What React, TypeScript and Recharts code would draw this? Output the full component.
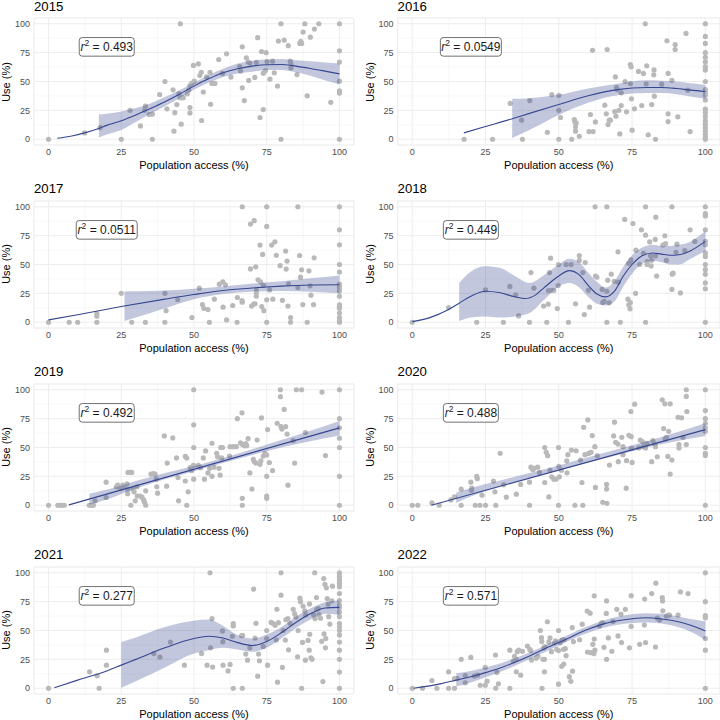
import React from 'react';
import {
  ComposedChart, Scatter, Line, Area, XAxis, YAxis, CartesianGrid, ReferenceDot,
} from 'recharts';

type Pt = [number, number];
type Band = [number, number, number];

const at100 = (ys: number[]): Pt[] => ys.map((y) => [100, y] as Pt);

// ---- 2015
const points2015: Pt[] = [
  [0, 0], [12.4, 5.5], [17.7, 10], [25, 0], [28, 25], [31.6, 11.5], [33.3, 28.6], [33, 25], [34.6, 21.4], [35.7, 21.7],
  [35.7, 0], [38.2, 38.7], [40, 50], [40.7, 26.3], [42.8, 42.8], [43.1, 7], [43.4, 23], [44.1, 30], [45.3, 100], [45.6, 13],
  [45.2, 36], [45.8, 36], [46.3, 36], [44.8, 39.6], [47.7, 39.3], [48.2, 42.5], [48.6, 46.5], [48.6, 27.5], [48.6, 22.8],
  [49.2, 48.3], [49.8, 63.9], [50.1, 50.3], [51.5, 65.3], [52, 55.2], [52.5, 58], [52.6, 16.2], [53.2, 40.8], [54.3, 54],
  [55.5, 58], [55.7, 30.3], [56.2, 48.3], [56.6, 48.3], [57.2, 48.3], [58.5, 69], [59.8, 57], [61.2, 74], [62.7, 53.8],
  [65.7, 63], [66, 59], [66.6, 80], [66.6, 44.5], [67.3, 33.5], [68, 70.5], [68.6, 67], [68.8, 50.9], [69.2, 66],
  [71.4, 66.5], [71.9, 88], [70.9, 53.5], [73.2, 76], [73.8, 57.2], [73.8, 25.7], [72.7, 18.8], [74.6, 59.5], [74.8, 75],
  [75.1, 67.3], [76.1, 52], [77, 67.6], [77.6, 57.5], [78.7, 46], [79, 85], [79.9, 100], [79.9, 0], [81, 85.8], [82.4, 81],
  [83.1, 67.6], [83.3, 65], [83.3, 61.8], [85.4, 56], [86.4, 83], [86.7, 84.7], [87, 83], [87.5, 92.8], [88.1, 100],
  [88.9, 37.6], [90, 88.4], [91.4, 95.4], [92.9, 100], [97, 32],
  ...at100([100, 76.6, 66.8, 50.3, 42, 40, 0]),
];
const fit2015: Pt[] = [
  [3, 0.8], [8, 2.8], [12.4, 5.5], [17.5, 9.5], [20, 12], [25, 16], [30, 21], [35, 26.6], [40, 32.5], [45, 39], [50, 46],
  [55, 52.3], [60, 57.5], [65, 61], [70, 63.3], [75, 64.5], [80, 64.7], [85, 63.3], [90, 61.3], [95, 59], [100, 56.6],
];
const band2015: Band[] = [
  [17.3, 1.4, 21.4], [20, 4, 22], [25, 8, 24], [30, 15, 27], [35, 22, 31], [40, 28.5, 36.5], [45, 35.5, 42.5], [50, 43, 49],
  [55, 49, 55.5], [60, 54, 61], [65, 57, 65.5], [70, 58.5, 68], [75, 60, 69], [80, 60, 69.5], [85, 58, 68.5], [90, 55, 67.5],
  [95, 51, 66.5], [100, 47.5, 65.5],
];

// ---- 2016
const points2016: Pt[] = [
  [17.7, 0], [27.4, 0], [33.4, 31], [37.3, 16.5], [37.6, 0], [40.1, 33.5], [46.1, 6], [47.6, 38.7], [50, 38], [50, 25], [50, 0],
  [50.6, 18.8], [54.4, 0], [55.3, 17], [55.5, 15], [55.7, 10.7], [55.7, 7], [55.9, 14], [57, 2.6], [60.3, 6.6], [61.7, 6.6],
  [60.8, 21.4], [61.5, 77], [62.5, 15], [65.7, 29.5], [66.2, 22], [66.5, 77.7], [66.8, 12.7], [67.2, 16.5], [67.6, 16.5],
  [69.1, 24], [69.3, 54], [69.7, 44.8], [69.9, 43], [69.5, 20], [70.5, 25], [70.8, 4.6], [71.3, 40.2], [71.3, 29.2], [72.6, 50],
  [73.1, 23.7], [74.4, 64.7], [74.7, 62.7], [74.4, 48.3], [74.8, 35], [75, 7.8], [75.8, 26.3], [77.2, 58.7], [78.3, 29.2],
  [78.9, 57], [79.5, 100], [80, 63.6], [79.8, 48], [80.5, 3.8], [81.7, 30], [82.4, 55.8], [82.5, 60], [82.6, 37.3], [83, 0],
  [85.1, 47.7], [86.9, 85.3], [87.3, 57], [87.3, 22], [87.3, 15.3], [88.6, 51], [89.7, 82], [89.7, 77.7], [90.6, 19.4],
  [93.4, 91.6], [94, 42.5], [94.8, 6.6],
  ...at100([100, 89, 83, 75, 71, 67, 63, 60, 50, 43, 41, 38, 34, 26, 23, 19.5, 16, 13, 10, 7, 4, 1.5, 0]),
];
const fit2016: Pt[] = [
  [17.6, 5.5], [25, 11], [34.4, 18], [40, 22.4], [50, 30], [60, 37.6], [70, 43], [80, 44.8], [85, 44.8], [90, 44], [95, 42.5],
  [100, 41.3],
];
const band2016: Band[] = [
  [34.1, 1, 35], [40, 8, 35.5], [50, 21, 38.5], [60, 31.5, 44], [70, 38, 48], [80, 40, 51], [85, 40, 50.7], [90, 39, 50],
  [95, 37, 48.5], [100, 35, 47],
];

// ---- 2017
const points2017: Pt[] = [
  [0, 0], [7.1, 0], [10, 0], [16.6, 7.5], [16.6, 5.2], [16.6, 0], [25, 25], [28.6, 0], [33.3, 0], [40, 25], [40.4, 10], [40, 0],
  [44.4, 19.7], [49.3, 4], [51.8, 29.5], [52.9, 15.3], [53.4, 12], [54.8, 11], [55.3, 0], [57, 20], [58.7, 33], [59.9, 35],
  [60.8, 32.4], [60, 13], [61.2, 2], [63.3, 14.5], [64.8, 0], [64.9, 21.4], [66.5, 18.8], [66.6, 17.3], [66.6, 100], [69.4, 85],
  [69.4, 46.2], [70.7, 88], [69.8, 14], [70.5, 15.6], [71, 16], [71.2, 48], [71.4, 27.5], [71.4, 25], [71.4, 22.5], [72, 36.7],
  [72.7, 66.8], [72.9, 35], [73.3, 13.6], [73.6, 58.7], [74, 10], [73.9, 32], [75, 100], [75, 83], [75, 19.4], [75, 0], [76, 28],
  [76.7, 66.8], [77.1, 20], [77.8, 69.6], [78.3, 58], [79.6, 49], [80.4, 19], [81.5, 61.6], [82, 53], [81.7, 46], [82.3, 14],
  [82.5, 33.3], [83.2, 4], [83.2, 0], [85.7, 100], [85.7, 30], [86.3, 57.8], [86.6, 39], [87, 45.4], [87.4, 15.3], [88.9, 0],
  [89.5, 44.5], [89.9, 31.5], [90.2, 23.4], [91.3, 55.8], [91.1, 15.3],
  ...at100([100, 80, 67, 50, 43.5, 33, 31, 29, 27, 22.5, 15, 13, 12, 8, 4, 1.5, 0]),
];
const fit2017: Pt[] = [
  [0, 2], [10, 6.5], [25, 13.6], [40, 20], [50, 24], [60, 27.5], [70, 29.6], [75, 30.5], [80, 31.3], [90, 32.3], [100, 32.5],
];
const band2017: Band[] = [
  [26.1, 1, 26.6], [30, 4, 26.8], [40, 12, 27.5], [50, 20, 29], [60, 24.5, 31], [70, 26.5, 33.5], [80, 27, 35.5],
  [90, 26.5, 38], [100, 25, 40.5],
];

// ---- 2018
const points2018: Pt[] = [
  [0, 0], [12.4, 12.7], [22, 0], [25, 28], [31.1, 0], [33.3, 31], [35.3, 23.7], [36.3, 5.5], [40, 0], [40.5, 43], [41.5, 29.5],
  [44.8, 14], [46.4, 15.6], [45.9, 0], [46.8, 43], [47.2, 55.5], [46.5, 27.5], [47.7, 27.5], [48.3, 27.5], [49.5, 11.8],
  [49.8, 31.8], [49.9, 50], [52.5, 50], [54.2, 50], [53.3, 0], [55.7, 16], [57, 57.8], [57, 53.6], [58.2, 43], [59, 51.7],
  [58.7, 6.6], [60.1, 27.7], [60.5, 13], [62.4, 100], [62.5, 40], [63, 39], [64.8, 28.4], [65, 17], [65.5, 18], [66.4, 100],
  [66.4, 0], [66.4, 26.8], [66.7, 36.4], [67.2, 16.8], [67.9, 41.6], [68.9, 35.5], [70.2, 61], [70.3, 34.7], [71, 0], [72.5, 89],
  [73.6, 20], [73.9, 15], [74.3, 11.6], [74.4, 17], [73.8, 51], [74.3, 51.7], [74.6, 54], [75.3, 85.5], [76.2, 25], [76.3, 62.4],
  [77.6, 50], [78.2, 80], [78.9, 59.6], [79.6, 100], [79.6, 75.4], [79.6, 0], [80.1, 50], [80.2, 52.6], [81, 69.6], [81.3, 57.5],
  [81.5, 48.8], [81.7, 53.6], [82.9, 71.7], [83.1, 91], [83, 57.5], [83.4, 40], [85.5, 66.8], [86.2, 74.9], [86.4, 68],
  [86.7, 53.6], [88.6, 100], [88.7, 41.6], [89, 42.5], [88.6, 28.4], [90.3, 67.6], [90, 60.6], [91.5, 25.4], [93, 62],
  [94.8, 80], [96.4, 70],
  ...at100([100, 94, 92, 80, 70, 67, 60, 57, 50, 45.5, 41.5, 34, 29, 0]),
];
const fit2018: Pt[] = [
  [0, 0.5], [6, 4], [12.4, 11], [16, 16.5], [20, 22.5], [25, 26.8], [30, 25.5], [35, 22], [38.5, 20.5], [42, 23.5], [45, 30],
  [50, 40], [53.5, 44.7], [57, 41], [60, 32], [63, 24.5], [66, 22], [69, 27], [72, 40], [75, 50], [78, 57], [82, 60], [85, 59],
  [88, 58], [91, 58.5], [95, 62], [100, 70],
];
const band2018: Band[] = [
  [16, 1, 34], [20, 4, 44], [25, 5, 48.5], [30, 4, 47], [35, 5, 40], [40, 8, 34], [45, 19.5, 41], [50, 31, 50], [53.5, 34, 55],
  [57, 30, 52], [60, 22, 43], [63, 16, 35], [66, 14.5, 30], [69, 18, 35.5], [72, 31, 48], [75, 42, 58], [78, 50, 64],
  [82, 53, 67], [85, 52, 66], [88, 50, 66], [91, 50, 67], [95, 55, 70], [100, 62, 79],
];

// ---- 2019
const points2019: Pt[] = [
  [0, 0], [3.2, 0], [4, 0], [4.7, 0], [5.4, 0], [14, 0], [14.9, 0], [15.4, 0], [16, 3.8], [19.8, 20], [19.8, 6.7], [23.3, 16],
  [23.8, 17.4], [24.7, 14.5], [25.5, 17.4], [26, 16.5], [27, 18.5], [27.2, 10], [27.3, 28.4], [28, 28.4], [28.6, 28.4],
  [27.3, 13.6], [28.3, 0], [29, 14], [29.4, 11.6], [29.8, 3.8], [30.4, 16], [30.5, 8], [31.5, 8], [32.1, 7], [32.7, 4.6],
  [33, 2.6], [33.4, 0], [33.4, 12.5], [35.2, 27], [36, 27.5], [36.6, 27], [37, 22.6], [37.2, 16], [37.5, 10.4], [39.8, 60],
  [40.6, 16.5], [40.8, 36.5], [42.7, 58.3], [44, 41], [44.5, 24], [44.7, 3.8], [47, 42.3], [47.5, 40.8], [47, 21], [47.5, 0],
  [48, 11.6], [48.7, 32.5], [49.2, 30], [49.8, 34.5], [49.9, 100], [49.9, 69.6], [49.9, 50], [49.9, 22.6], [51.5, 34.5],
  [52.2, 32.5], [53.2, 41], [53.6, 22.6], [54, 47], [54.8, 28], [55.4, 32], [56.2, 25], [56.2, 53.6], [56.9, 33], [57.8, 45],
  [58.1, 42], [58.6, 32], [59, 26], [59.2, 50], [59.8, 50], [59.5, 41], [62.2, 42.6], [62.4, 50.7], [63.5, 50.7], [64.9, 75],
  [64.5, 50.7], [66, 54], [66.7, 52.7], [67.4, 51.6], [66.5, 80], [66.6, 6], [66.6, 0], [67.8, 53.3], [68.1, 51.6],
  [68.6, 57.7], [69.2, 28], [69.9, 14], [70.4, 39.7], [70.8, 37.6], [71.3, 36.5], [71.7, 56.5], [72.7, 35.4], [73, 38.5],
  [73.2, 75.6], [73.8, 42.6], [74.4, 45], [75, 43.5], [75, 25], [75, 8], [75, 6], [75.3, 65.5], [75.9, 37], [77, 30],
  [78.6, 71], [79.7, 100], [79.7, 94], [79.9, 68], [80.2, 66], [81, 83], [81.5, 68], [82, 61.6], [82.3, 17.4], [84.1, 56],
  [84.6, 36.5], [85.2, 100], [87, 100], [88.3, 63], [94, 98], [95.2, 43],
  ...at100([100, 75, 67, 58, 50, 25, 0]),
];
const fit2019: Pt[] = [[7, 0.3], [100, 67]];
const band2019: Band[] = [
  [14, 0.5, 10], [20, 5, 13.5], [30, 14.5, 21], [40, 22.5, 28], [50, 29.5, 34], [60, 36.5, 41], [70, 43.5, 48.5],
  [80, 50, 56.5], [90, 55.5, 64.5], [100, 60.5, 73],
];

// ---- 2020
const points2020: Pt[] = [
  [0, 0], [1.9, 0], [6.7, 2], [9.2, 0], [13.2, 4.6], [14.4, 7.2], [16.7, 0], [16.7, 14], [20, 20], [20.2, 13], [20.3, 14.8],
  [21.5, 0], [23.1, 0], [22, 25], [22.2, 23], [23.8, 8.7], [25, 0], [27.7, 21], [28.2, 11.6], [28.5, 0], [30, 45], [31.2, 17.7],
  [32.1, 7], [35.5, 9.6], [37, 18], [40, 20], [40, 0], [40.5, 33], [41.1, 31], [41.7, 32], [42.8, 33], [43.4, 28.4], [45.2, 50],
  [45.7, 45.8], [46.2, 42.9], [45.2, 19.7], [46.6, 7.2], [47, 30.4], [47.6, 24.6], [48.3, 22.6], [49, 22.6], [49.9, 50],
  [49.9, 0], [50, 33.6], [50.2, 24.6], [50.9, 30.4], [52.7, 38.5], [53.1, 43.8], [52.8, 28.1], [54.3, 47.8], [55.9, 47.2],
  [55.5, 0], [57.4, 39.1], [57.9, 19.7], [58.2, 0], [58.5, 67.5], [58.9, 43.8], [59.9, 73.9], [60.2, 44.9], [61, 45.8],
  [61.4, 60.3], [62.3, 50.7], [62.5, 15.4], [63.1, 42.9], [65, 2.6], [66.4, 1.7], [66.3, 18], [66.3, 14], [67.3, 34.8],
  [68.7, 60], [69, 71.9], [69.4, 54.5], [70.2, 53], [70.3, 37.7], [71.5, 58.8], [71.9, 50.7], [71.9, 43.8], [73, 14.8],
  [73.1, 38.6], [73.9, 60.6], [74.7, 59.4], [74.8, 49.3], [75, 37.1], [74.6, 81.2], [75.9, 87.5], [77.3, 49.6], [77.8, 56.5],
  [78.5, 55.1], [78.9, 50.7], [79.6, 49.6], [80.1, 53.6], [81.7, 37.7], [82.1, 55.9], [82.7, 53], [83, 50.7], [83.6, 42],
  [85.3, 91.3], [85.8, 66.4], [86.2, 87.8], [88, 87.8], [86.3, 57.4], [86.7, 58.8], [87.2, 42.3], [87.5, 64], [88, 27],
  [88.6, 39.1], [90.7, 76.2], [91.9, 75.7], [91, 52.5], [91, 49.6], [92.4, 58.8], [93.5, 100], [93.5, 94.2], [93.7, 81.2],
  [93.5, 52.5],
  ...at100([100, 82, 75, 71, 67, 64, 50, 45, 43, 0]),
];
const fit2020: Pt[] = [[6.5, 0], [100, 65.5]];
const band2020: Band[] = [
  [15, 2, 11], [20, 7.5, 15], [30, 16, 21.5], [40, 23.5, 28], [50, 30, 34.5], [60, 37, 41.5], [70, 43.5, 48.5],
  [80, 50, 55.5], [90, 55.5, 63], [100, 60, 71],
];

// ---- 2021
const points2021: Pt[] = [
  [0, 0], [14.1, 14.2], [16.7, 10.7], [17.4, 0], [19.9, 33], [19.9, 20], [36.2, 30], [38.3, 27], [41.9, 40], [46.7, 20],
  [52.6, 30], [54.5, 20], [55.5, 100], [55.7, 35], [56.2, 60.3], [56.4, 18.3], [59.8, 49.6], [60, 20], [59.9, 40.3], [61.7, 15],
  [62.4, 20.6], [63.5, 56], [63.5, 54], [63.2, 45], [63.5, 0], [66.4, 45.5], [66.7, 45.8], [66.6, 0], [67.8, 29.6], [68.4, 24.3],
  [69.2, 35], [70.5, 85.8], [71, 43.5], [71.3, 56.2], [71.9, 10.4], [72.2, 29.6], [72.5, 23.8], [73.8, 36.2], [75, 50], [75, 43],
  [75.3, 20], [76.5, 57], [77.2, 56], [77.9, 54.5], [78.3, 41.7], [78.5, 68.4], [78.7, 5.2], [79, 56.8], [79.9, 100],
  [79.9, 80.6], [80.4, 18], [80.7, 50], [81.4, 41.7], [81.6, 59.4], [82.3, 60.3], [82.5, 33.3], [83, 56.2], [84.1, 68.4],
  [84.6, 64.6], [85, 61.7], [85.6, 27.2], [85.8, 50], [86.4, 78], [86.6, 75], [87, 0], [87.3, 39.7], [87.5, 71], [88.1, 67],
  [88.4, 63.5], [88.3, 24.3], [89.2, 41.4], [89.6, 33], [89.7, 73], [90.2, 26.4], [90.6, 25], [89.8, 46.7], [91.1, 63.8],
  [91.6, 60.3], [91.5, 100], [92.1, 78.5], [92.2, 68], [92.7, 69], [93, 63.5], [93.5, 60.6], [93.9, 40.6], [94.3, 5.8],
  [94.6, 95], [94.7, 47], [95, 90], [95.5, 87], [95.2, 35], [95.3, 43], [95.8, 77.7], [96.1, 72.8], [96.3, 62], [96.7, 55.6],
  [97.6, 88.4], [97.4, 75.7],
  ...at100([100, 97, 94, 91, 88, 82, 76, 72, 70, 66, 62, 56, 53, 50, 46, 40, 33, 25, 14, 0]),
];
const fit2021: Pt[] = [
  [2, 0.5], [10, 7], [20, 15], [25, 20], [30, 25], [40, 35], [50, 43], [55, 45], [60, 43.5], [65, 39.5], [70, 37], [75, 40.5],
  [80, 48], [85, 57], [90, 64.5], [95, 69.5], [100, 70],
];
const band2021: Band[] = [
  [25, 0.5, 40], [30, 6, 44], [40, 18, 53], [50, 30, 58.5], [55, 33, 59.5], [60, 35, 54], [65, 33.5, 46], [70, 31.5, 43],
  [75, 35, 46.5], [80, 43, 53], [85, 52, 62], [90, 59.5, 69], [95, 64.5, 74.5], [100, 63.5, 76],
];

// ---- 2022
const points2022: Pt[] = [
  [0, 0], [3.5, 0], [6.7, 6.7], [8.4, 0], [12.4, 14.2], [12.4, 0], [14.4, 0], [14.4, 8.4], [15.3, 8.4], [16.7, 25], [18.1, 11],
  [18.1, 4.7], [20, 26.7], [21.2, 10.5], [22.3, 11.3], [23.2, 2.6], [24.9, 18], [24.9, 2.6], [25.5, 6.1], [28.4, 28.8],
  [28.5, 0], [29.4, 3.8], [28.9, 13.7], [33.3, 0], [33.3, 33], [34.5, 23.5], [34.9, 27.7], [35.5, 25], [35.8, 31.7],
  [36.3, 33], [37.6, 32], [37, 11.3], [35.5, 14.2], [39.3, 36.5], [40.1, 33.7], [40.4, 32.6], [40.7, 24.4], [42.3, 26],
  [42.9, 27.7], [43.7, 50], [44.1, 43.8], [44.2, 40.4], [44.3, 0], [44.6, 25], [45.1, 25], [45.1, 14.2], [44.9, 35], [45.2, 36],
  [46.1, 57.6], [46.6, 40], [47, 43.6], [47.5, 31.7], [48.5, 39.3], [48.9, 41], [49.3, 33.7], [49.9, 32.6], [49.9, 50],
  [49.9, 3.5], [50.5, 39.3], [51.1, 41.9], [51, 19], [51.7, 21], [51.6, 33.7], [52.2, 34.3], [51.8, 41.9], [52.5, 28.2],
  [53.6, 10], [54.1, 6], [54.7, 14.8], [54.6, 52.6], [55, 40.4], [57.1, 42], [58, 55.5], [59.7, 66.8], [60.7, 65], [59.8, 31.3],
  [61, 30.8], [62, 30], [62.1, 80], [62.1, 42.6], [62.3, 33], [61.6, 38], [63.9, 53.8], [64.6, 56.7], [65, 56.7], [65.4, 35.4],
  [66.3, 75.6], [66.3, 25], [66.2, 64.8], [66.9, 43.6], [68.1, 32], [68.5, 57.8], [69.8, 68.3], [70.2, 45.3], [71.2, 64.2],
  [71.4, 39.5], [72.7, 68.3], [74.1, 35], [74.7, 80.2], [74.7, 53.5], [77.6, 38], [79.3, 77.3], [79.2, 54.7], [79.6, 39.6],
  [81.7, 82], [83.1, 91], [83, 35.7], [83.6, 60.8], [84.4, 59], [85.3, 78.4], [85.4, 75.6], [85.5, 67], [86.7, 62.5],
  [87.3, 63.4], [87.8, 63.4], [90.7, 63.4], [91.5, 83.4], [94.1, 82],
  ...at100([100, 75, 63, 61, 43, 33, 0]),
];
const fit2022: Pt[] = [
  [0.5, 0], [10, 4], [15, 7], [20, 10], [25, 13.5], [30, 17.5], [35, 22.5], [40, 28], [45, 34], [50, 39.5], [55, 45.5],
  [60, 51], [65, 55.5], [70, 58.5], [75, 60.2], [80, 61], [85, 60], [90, 58], [95, 54.5], [100, 49.5],
];
const band2022: Band[] = [
  [15, 1.5, 13], [20, 5, 15], [25, 9.5, 18], [30, 14, 21.5], [40, 25, 31], [50, 37, 42.5], [60, 48, 54], [70, 55, 62],
  [75, 56.5, 64], [80, 57, 65], [85, 56, 64.5], [90, 53.5, 62.5], [95, 49, 60], [100, 42, 58],
];

const years = ['2015', '2016', '2017', '2018', '2019', '2020', '2021', '2022'];
const r2Values = ['0.493', '0.0549', '0.0511', '0.449', '0.492', '0.488', '0.277', '0.571'];
const allPoints = [points2015, points2016, points2017, points2018, points2019, points2020, points2021, points2022];
const allFits = [fit2015, fit2016, fit2017, fit2018, fit2019, fit2020, fit2021, fit2022];
const allBands = [band2015, band2016, band2017, band2018, band2019, band2020, band2021, band2022];

const TICKS = [0, 25, 50, 75, 100];
const MINOR = [12.5, 37.5, 62.5, 87.5];
const ROW_TOPS = [0, 182.5, 365.6, 548.6];
const FONT = '"Liberation Sans", Arial, Helvetica, sans-serif';
const LINE = '#36468F';
const POINT = '#B9B9B9';

const dot = (props: any) => <circle cx={props.cx} cy={props.cy} r={2.6} fill={POINT} />;

const r2Box = (value: string) => (props: any) => {
  const { cx, cy } = props;
  const w = 25 + 6 * value.length;
  const h = 18.6;
  return (
    <g>
      <rect x={cx - w / 2} y={cy - h / 2} width={w} height={h} rx={3} fill="#fff" stroke="#333" strokeWidth={0.7} />
      <text x={cx} y={cy + 4.2} textAnchor="middle" fontSize={12} fill="#1a1a1a" fontFamily={FONT}>
        <tspan fontStyle="italic">r</tspan>
        <tspan dy={-5} fontSize={8.5}>2</tspan>
        <tspan dy={5}>{' = ' + value}</tspan>
      </text>
    </g>
  );
};

const Panel = ({ index }: { index: number }) => {
  const col = index % 2;
  const row = Math.floor(index / 2);
  const margin = col === 0
    ? { top: 18, right: 6, bottom: 8, left: 4 }
    : { top: 18, right: 0, bottom: 8, left: 7.6 };
  const plotLeft = margin.left + 30;
  const pts = allPoints[index].map(([x, y]) => ({ x, y }));
  const fit = allFits[index].map(([x, y]) => ({ x, y }));
  const band = allBands[index].map(([x, lo, hi]) => ({ x, band: [lo, hi] }));
  return (
    <div style={{ position: 'absolute', left: col * 360, top: ROW_TOPS[row], width: 360, height: 183 }}>
      <ComposedChart width={360} height={183} margin={margin}>
        <CartesianGrid xAxisId="minor" yAxisId="minor" stroke="#F3F3F3" strokeWidth={0.7} />
        <CartesianGrid stroke="#EBEBEB" strokeWidth={0.9} />
        <XAxis xAxisId="minor" type="number" dataKey="x" domain={[-5, 105]} ticks={MINOR} hide allowDataOverflow />
        <YAxis yAxisId="minor" type="number" dataKey="y" domain={[-5, 105]} ticks={MINOR} hide allowDataOverflow />
        <XAxis
          type="number" dataKey="x" domain={[-5, 105]} ticks={TICKS} allowDataOverflow
          axisLine={false} tickLine={false} tickSize={0} tickMargin={4} height={30}
          tick={{ fontSize: 9, fill: '#4D4D4D', fontFamily: FONT }}
          label={{ value: 'Population access (%)', position: 'insideBottom', offset: 6, fontSize: 11, fill: '#000', fontFamily: FONT }}
        />
        <YAxis
          type="number" dataKey="y" domain={[-5, 105]} ticks={TICKS} allowDataOverflow
          axisLine={false} tickLine={false} tickSize={0} tickMargin={4} width={30}
          tick={{ fontSize: 9, fill: '#4D4D4D', fontFamily: FONT }}
        />
        <Scatter data={pts} shape={dot} zIndex={50} isAnimationActive={false} />
        <Area data={band} dataKey="band" type="monotone" stroke="none" fill={LINE} fillOpacity={0.3} zIndex={100} isAnimationActive={false} />
        <Line data={fit} dataKey="y" type="monotone" stroke={LINE} strokeWidth={1.1} dot={false} activeDot={false} zIndex={400} isAnimationActive={false} />
        <ReferenceDot x={20} y={80} shape={r2Box(r2Values[index])} zIndex={600} />
      </ComposedChart>
      <div style={{ position: 'absolute', left: plotLeft, top: -0.5, fontSize: 13.2, fontWeight: 400, lineHeight: '13.2px', fontFamily: FONT, color: '#000' }}>
        {years[index]}
      </div>
      <div style={{
        position: 'absolute', left: col === 0 ? 5.5 : 10, top: 81.5, fontSize: 11, fontFamily: FONT, color: '#000',
        whiteSpace: 'nowrap', transform: 'translate(-50%, -50%) rotate(-90deg)',
      }}>
        Use (%)
      </div>
    </div>
  );
}

export default function App() {
  return (
    <div style={{ position: 'absolute', left: 0, top: 0, width: 720, height: 720, background: '#fff', overflow: 'hidden' }}>
      {years.map((y, i) => <Panel key={y} index={i} />)}
    </div>
  );
}
